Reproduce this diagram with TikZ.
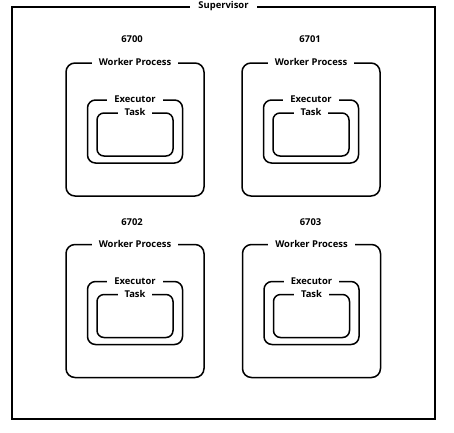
\documentclass[tikz,border=0pt]{standalone}
\usepackage{fontspec}
\setmainfont{Open Sans}
\usetikzlibrary{positioning,calc,shadows}
\tikzset{
    every node/.style={font=\bfseries\fontsize{9.4}{11}\selectfont},
    framebox/.style={draw, line width=1.5pt, fill=white, drop shadow={shadow xshift=1pt, shadow yshift=-1pt, fill=black!45}},
    workerbox/.style={draw, line width=1.5pt, rounded corners=9pt, minimum width=138pt, minimum height=133pt},
    execbox/.style={draw, line width=1.5pt, rounded corners=8pt, minimum width=95pt, minimum height=63pt},
    taskbox/.style={draw, line width=1.5pt, rounded corners=7pt, minimum width=76pt, minimum height=43pt},
    boxlabel/.style={fill=white, inner xsep=7pt, inner ysep=1pt},
}

\begin{document}
\begin{tikzpicture}[x=1pt, y=-1pt]
  \useasboundingbox (0,0) rectangle (454,432);
  \node[framebox, minimum width=423pt, minimum height=412pt] (super) at (223.5,213) {};
  \node[boxlabel, inner xsep=8pt] (superlbl) at (super.north) {Supervisor};
  % top left
  \node[workerbox] (w0) at (135,129.5) {};
  \node (port0) at ($(w0.north) + (-3,-23)$) {6700};
  \node[boxlabel] (w0lbl) at (w0.north) {Worker Process};
  \node[execbox] (e0) at ($(w0.center) + (0,2)$) {};
  \node[boxlabel] (e0lbl) at (e0.north) {Executor};
  \node[taskbox] (t0) at ($(w0.center) + (0,5)$) {};
  \node[boxlabel] (t0lbl) at (t0.north) {Task};
  % top right
  \node[workerbox] (w1) at (311,129.5) {};
  \node (port1) at ($(w1.north) + (-1,-23)$) {6701};
  \node[boxlabel] (w1lbl) at (w1.north) {Worker Process};
  \node[execbox] (e1) at ($(w1.center) + (0,2)$) {};
  \node[boxlabel] (e1lbl) at (e1.north) {Executor};
  \node[taskbox] (t1) at ($(w1.center) + (0,5)$) {};
  \node[boxlabel] (t1lbl) at (t1.north) {Task};
  % bottom left
  \node[workerbox] (w2) at (135,311) {};
  \node (port2) at ($(w2.north) + (-3,-22)$) {6702};
  \node[boxlabel] (w2lbl) at (w2.north) {Worker Process};
  \node[execbox] (e2) at ($(w2.center) + (0,2)$) {};
  \node[boxlabel] (e2lbl) at (e2.north) {Executor};
  \node[taskbox] (t2) at ($(w2.center) + (0,5)$) {};
  \node[boxlabel] (t2lbl) at (t2.north) {Task};
  % bottom right
  \node[workerbox] (w3) at (311.5,311) {};
  \node (port3) at ($(w3.north) + (-1,-22)$) {6703};
  \node[boxlabel] (w3lbl) at (w3.north) {Worker Process};
  \node[execbox] (e3) at ($(w3.center) + (0,2)$) {};
  \node[boxlabel] (e3lbl) at (e3.north) {Executor};
  \node[taskbox] (t3) at ($(w3.center) + (0,5)$) {};
  \node[boxlabel] (t3lbl) at (t3.north) {Task};
\end{tikzpicture}
\end{document}
